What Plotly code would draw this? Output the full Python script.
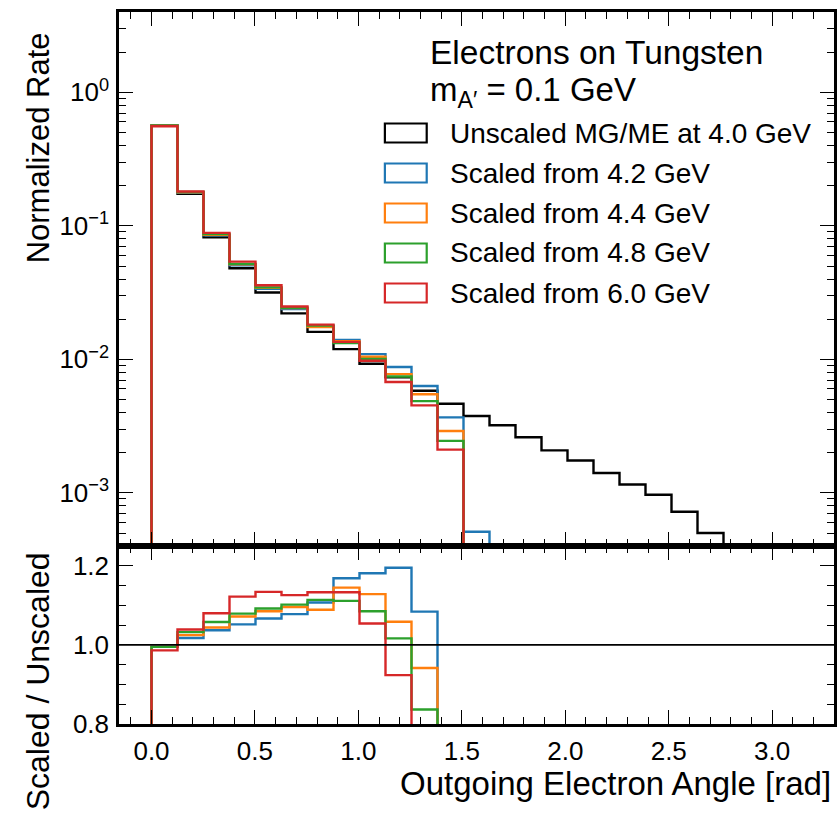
import numpy as np
import plotly.graph_objects as go
from plotly.subplots import make_subplots

# 25 equal-width angle bins covering [0, pi]
n_bins = 25
edges = np.linspace(0.0, np.pi, n_bins + 1)

# Normalized rates per bin (bins past the end of each list are empty)
unscaled_4p0 = [0.566, 0.174, 0.0820, 0.0481, 0.0317, 0.0221, 0.01607, 0.01194,
                0.00927, 0.00733, 0.00582, 0.00465, 0.00377, 0.00321, 0.00261,
                0.00208, 0.00175, 0.00141, 0.001155, 0.000968, 0.000723, 0.000500]
scaled_4p2 = [0.5632, 0.1770, 0.08503, 0.05060, 0.03382, 0.02382, 0.01779, 0.01395,
              0.01095, 0.00876, 0.00631, 0.00368, 0.000512]
scaled_4p4 = [0.5632, 0.1783, 0.08561, 0.05156, 0.03439, 0.02422, 0.01750, 0.01367,
              0.01046, 0.00776, 0.00548, 0.00291]
scaled_4p8 = [0.5632, 0.1796, 0.08676, 0.05190, 0.03462, 0.02435, 0.01790, 0.01327,
              0.01006, 0.00745, 0.00487, 0.00245]
scaled_6p0 = [0.5581, 0.1808, 0.08856, 0.05397, 0.03595, 0.02488, 0.01821, 0.01353,
              0.00977, 0.00677, 0.00452, 0.00211]

series_labels = ["Unscaled MG/ME at 4.0 GeV", "Scaled from 4.2 GeV",
                 "Scaled from 4.4 GeV", "Scaled from 4.8 GeV", "Scaled from 6.0 GeV"]
series_colors = ["#000000", "#1f77b4", "#ff7f0e", "#2ca02c", "#d62728"]

x_ticks = [0.0, 0.5, 1.0, 1.5, 2.0, 2.5, 3.0]
x_ticktext = ["0.0", "0.5", "1.0", "1.5", "2.0", "2.5", "3.0"]
y_ticks = [1e-3, 1e-2, 1e-1, 1.0]
y_ticktext = ["10<sup>\u22123</sup>", "10<sup>\u22122</sup>", "10<sup>\u22121</sup>", "10<sup>0</sup>"]
r_ticks = [0.8, 1.0, 1.2]
r_ticktext = ["0.8", "1.0", "1.2"]

FONT = "Liberation Sans, Arial, Helvetica, sans-serif"
W, H = 840, 816
L, R, T, B = 119, 3, 12, 92
PW, PH = W - L - R, H - T - B


def px_x(px):
    return (px - L) / PW


def px_y(py):
    return (H - B - py) / PH


def step_xy(vals, floor):
    n = len(vals)
    xs = [edges[0]] + list(edges[:n]) + [edges[n]]
    ys = [floor] + list(vals) + [floor]
    return xs, ys


fig = make_subplots(rows=2, cols=1, shared_xaxes=True,
                    row_heights=[0.75, 0.25], vertical_spacing=0.0)

all_series = [unscaled_4p0, scaled_4p2, scaled_4p4, scaled_4p8, scaled_6p0]

# Upper panel: normalized rate histograms
for vals, col, lab in zip(all_series, series_colors, series_labels):
    xs, ys = step_xy(vals, 1e-7)
    fig.add_trace(go.Scatter(x=xs, y=ys, mode="lines", line_shape="hv",
                             line=dict(color=col, width=2.4), name=lab,
                             showlegend=False), row=1, col=1)

# Lower panel: scaled / unscaled ratio
base = np.array(unscaled_4p0)
for vals, col, lab in zip(all_series[1:], series_colors[1:], series_labels[1:]):
    v = np.array(vals)
    ratio = v / base[:len(v)]
    xs, ys = step_xy(ratio, 0.0)
    fig.add_trace(go.Scatter(x=xs, y=ys, mode="lines", line_shape="hv",
                             line=dict(color=col, width=2.4), name=lab,
                             showlegend=False), row=2, col=1)

fig.add_shape(type="line", xref="x2 domain", yref="y2", x0=0, x1=1, y0=1.0, y1=1.0,
              line=dict(color="black", width=1.6))

x_range = [-0.05 * np.pi, 1.05 * np.pi]
axis_common = dict(showline=True, linewidth=2.5, linecolor="black", mirror="allticks",
                   ticks="inside", ticklen=14, tickwidth=1.3, tickcolor="black",
                   showgrid=False, zeroline=False,
                   tickfont=dict(family=FONT, size=26, color="black"))

fig.update_xaxes(range=x_range, tickvals=x_ticks, ticktext=x_ticktext,
                 minor=dict(ticks="inside", ticklen=7, tickwidth=1, tickcolor="black",
                            dtick=0.1, tick0=0.0, showgrid=False),
                 **axis_common)
fig.update_xaxes(showticklabels=False, row=1, col=1)
fig.update_xaxes(showticklabels=True, ticklabelstandoff=2, row=2, col=1)

minor_log = [m * 10.0 ** k for k in range(-4, 1) for m in range(2, 10)]
fig.update_yaxes(type="log", range=[np.log10(4e-4), np.log10(4.0)],
                 tickvals=y_ticks, ticktext=y_ticktext,
                 minor=dict(ticks="inside", ticklen=7, tickwidth=1, tickcolor="black",
                            tickvals=minor_log, showgrid=False),
                 ticklabelstandoff=2, row=1, col=1, **axis_common)
fig.update_yaxes(range=[0.8, 1.25], tickvals=r_ticks, ticktext=r_ticktext,
                 minor=dict(ticks="inside", ticklen=7, tickwidth=1, tickcolor="black",
                            dtick=0.05, tick0=0.8, showgrid=False),
                 ticklabelstandoff=2, row=2, col=1, **axis_common)

annotations = []
# axis titles
annotations.append(dict(text="Normalized Rate", x=px_x(38), y=px_y(148), xref="paper",
                        yref="paper", textangle=-90, showarrow=False,
                        xanchor="center", yanchor="middle",
                        font=dict(family=FONT, size=31, color="black")))
annotations.append(dict(text="Scaled / Unscaled", x=px_x(38), y=px_y(681), xref="paper",
                        yref="paper", textangle=-90, showarrow=False,
                        xanchor="center", yanchor="middle",
                        font=dict(family=FONT, size=32, color="black")))
annotations.append(dict(text="Outgoing Electron Angle [rad]", x=px_x(836), y=px_y(783),
                        xref="paper", yref="paper", showarrow=False,
                        xanchor="right", yanchor="middle",
                        font=dict(family=FONT, size=33, color="black")))
# header text
annotations.append(dict(text="Electrons on Tungsten", x=px_x(429), y=px_y(52),
                        xref="paper", yref="paper", showarrow=False,
                        xanchor="left", yanchor="middle",
                        font=dict(family=FONT, size=33.5, color="black")))
annotations.append(dict(text="m<sub>A\u2032</sub> = 0.1 GeV", x=px_x(429), y=px_y(92),
                        xref="paper", yref="paper", showarrow=False,
                        xanchor="left", yanchor="middle",
                        font=dict(family=FONT, size=33, color="black")))

# legend entries: open boxes with labels
shapes = []
row_y = [133, 173, 213, 253, 293]
for yc, col, lab in zip(row_y, series_colors, series_labels):
    shapes.append(dict(type="rect", xref="paper", yref="paper",
                       x0=px_x(386), x1=px_x(428), y0=px_y(yc + 9.5), y1=px_y(yc - 9.5),
                       line=dict(color=col, width=2.2), fillcolor="rgba(0,0,0,0)"))
    annotations.append(dict(text=lab, x=px_x(449), y=px_y(yc), xref="paper", yref="paper",
                            showarrow=False, xanchor="left", yanchor="middle",
                            font=dict(family=FONT, size=28, color="black")))

for s in shapes:
    fig.add_shape(**s)

fig.update_layout(width=W, height=H, margin=dict(l=L, r=R, t=T, b=B),
                  plot_bgcolor="white", paper_bgcolor="white",
                  annotations=list(fig.layout.annotations) + annotations,
                  font=dict(family=FONT, color="black"))

fig.write_html("out.html")
